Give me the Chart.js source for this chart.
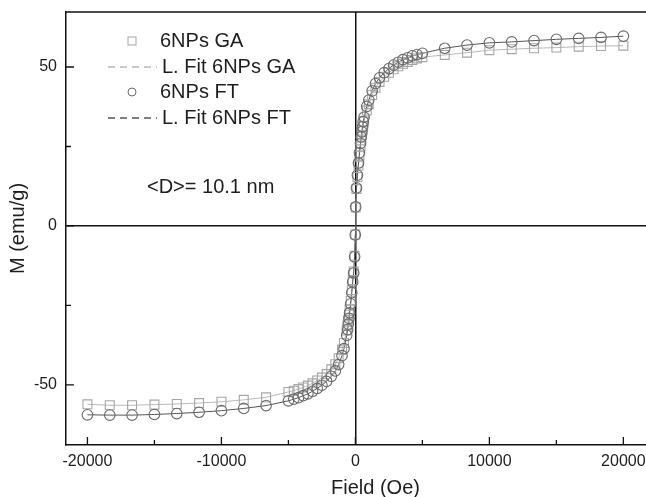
<!DOCTYPE html>
<html lang="en">
<head>
  <meta charset="UTF-8">
  <title>M vs Field - 6NPs GA / FT</title>
  <script src="https://cdn.jsdelivr.net/npm/chart.js"></script>
  <style>
    html, body { margin: 0; padding: 0; overflow: hidden; background: #fff; }
    #wrap { width: 646px; height: 497px; overflow: hidden; }
  </style>
</head>
<body>
  <div id="wrap">
    <canvas id="mhChart" width="700" height="497"></canvas>
  </div>

  <script>
    // Applied field (Oe), shared by both samples
    const fieldOe = [
      -20000, -18333, -16667, -15000, -13333, -11667, -10000, -8333, -6667, -5000,
      -4600, -4250, -3900, -3550, -3200, -2850, -2500, -2150, -1800, -1500,
      -1250, -1000, -850, -650, -580, -530, -480, -430, -350, -270,
      -200, -130, -60, -10,
      20, 80, 150, 230, 300, 380, 430, 480, 530, 580,
      650, 850, 1000, 1250, 1500, 1800, 2150, 2500, 2850, 3200,
      3550, 3900, 4250, 4600,
      5000, 6667, 8333, 10000, 11667, 13333, 15000, 16667, 18333, 20000
    ];

    // Magnetization (emu/g), 6NPs GA (squares)
    const mGA = [
      -56.1, -56.4, -56.4, -56.2, -56.0, -55.7, -55.3, -54.7, -53.9, -52.2,
      -51.8, -51.3, -50.8, -50.2, -49.5, -48.6, -47.7, -46.6, -45.1, -43.5,
      -41.6, -38.9, -36.8, -32.9, -31.2, -29.6, -27.9, -26.2, -23.5, -20.2,
      -17.0, -14.3, -9.4, -2.7,
      5.8, 11.6, 15.4, 19.0, 22.1, 25.0, 26.9, 28.5, 30.0, 31.5,
      32.9, 36.3, 38.3, 41.2, 43.5, 45.3, 46.9, 48.2, 49.3, 50.2,
      51.0, 51.6, 52.2, 52.7,
      53.1, 53.8, 54.5, 55.3, 55.6, 55.9, 56.1, 56.4, 56.6, 56.7
    ];

    // Magnetization (emu/g), 6NPs FT (circles)
    const mFT = [
      -59.4, -59.5, -59.5, -59.3, -59.0, -58.6, -58.1, -57.4, -56.5, -55.0,
      -54.5, -54.0, -53.4, -52.8, -52.0, -51.1, -50.1, -48.9, -47.3, -45.6,
      -43.6, -40.8, -38.6, -34.4, -32.6, -30.9, -29.1, -27.3, -24.5, -21.0,
      -17.6, -14.8, -9.7, -2.8,
      6.0, 12.0, 16.0, 19.8, 23.0, 26.0, 28.0, 29.6, 31.2, 32.8,
      34.2, 37.6, 39.6, 42.5, 44.8, 46.6, 48.2, 49.5, 50.6, 51.5,
      52.3, 52.9, 53.5, 53.9,
      54.3, 55.9, 56.9, 57.6, 57.9, 58.3, 58.7, 59.0, 59.3, 59.7
    ];

    // ticks: all tick positions, labels only on the major ones
    const xTickValues = [-20000, -15000, -10000, -5000, 0, 5000, 10000, 15000, 20000];
    const xMajorTicks = [-20000, -10000, 0, 10000, 20000];
    const yTickValues = [-50, -25, 0, 25, 50];
    const yMajorTicks = [-50, 0, 50];
    const legendLabels = ['6NPs GA', 'L. Fit 6NPs GA', '6NPs FT', 'L. Fit 6NPs FT'];
    const noteText = '<D>= 10.1 nm';

    const FONT = "'Liberation Sans', Arial, sans-serif";
    const TEXT = '#1e1e1e';

    const toPoints = ys => fieldOe.map((x, i) => ({ x: x, y: ys[i] }));

    // frame top line, inward ticks, legend and size note
    const framePlugin = {
      id: 'frame',
      afterDraw(chart) {
        const ctx = chart.ctx;
        const a = chart.chartArea;
        const xs = chart.scales.x, ys = chart.scales.y;
        ctx.save();
        ctx.strokeStyle = '#111';
        ctx.lineWidth = 1.5;
        ctx.beginPath();
        ctx.moveTo(a.left, a.top);
        ctx.lineTo(a.right, a.top);
        ctx.lineTo(a.right, a.bottom);
        ctx.stroke();

        // inward ticks
        ctx.lineWidth = 1.3;
        ctx.beginPath();
        xs.ticks.forEach(t => {
          const px = xs.getPixelForValue(t.value);
          const len = xMajorTicks.includes(t.value) ? 8 : 5;
          ctx.moveTo(px, a.bottom);
          ctx.lineTo(px, a.bottom - len);
        });
        ys.ticks.forEach(t => {
          const py = ys.getPixelForValue(t.value);
          const len = yMajorTicks.includes(t.value) ? 8 : 5;
          ctx.moveTo(a.left, py);
          ctx.lineTo(a.left + len, py);
        });
        ctx.stroke();

        // legend
        const ds = chart.data.datasets;
        const rows = [
          { y: 41, kind: 'rect', d: ds[2] },
          { y: 67, kind: 'line', d: ds[0] },
          { y: 92, kind: 'circle', d: ds[3] },
          { y: 118, kind: 'line', d: ds[1] }
        ];
        ctx.font = '20px ' + FONT;
        ctx.textBaseline = 'middle';
        ctx.textAlign = 'left';
        rows.forEach((r, i) => {
          if (r.kind === 'line') {
            ctx.save();
            ctx.strokeStyle = r.d.borderColor;
            ctx.lineWidth = 1.5;
            ctx.setLineDash([7, 5]);
            ctx.beginPath();
            ctx.moveTo(108, r.y);
            ctx.lineTo(157, r.y);
            ctx.stroke();
            ctx.restore();
          } else if (r.kind === 'rect') {
            ctx.strokeStyle = r.d.borderColor;
            ctx.lineWidth = 1;
            ctx.strokeRect(128, r.y - 4, 8, 8);
          } else {
            ctx.strokeStyle = r.d.borderColor;
            ctx.lineWidth = 1;
            ctx.beginPath();
            ctx.arc(132, r.y, 4, 0, Math.PI * 2);
            ctx.stroke();
          }
          ctx.fillStyle = TEXT;
          ctx.fillText(legendLabels[i], i % 2 ? 162 : 160, r.y);
        });
        ctx.fillText(noteText, 147, 187);
        ctx.restore();
      }
    };

    const ctx = document.getElementById('mhChart').getContext('2d');
    new Chart(ctx, {
      type: 'scatter',
      data: {
        datasets: [
          {
            label: 'L. Fit 6NPs GA',
            type: 'line',
            data: toPoints(mGA),
            borderColor: '#b9b9b9',
            borderWidth: 1,
            pointRadius: 0,
            fill: false,
            tension: 0,
            order: 4
          },
          {
            label: 'L. Fit 6NPs FT',
            type: 'line',
            data: toPoints(mFT),
            borderColor: '#555555',
            borderWidth: 1,
            pointRadius: 0,
            fill: false,
            tension: 0,
            order: 3
          },
          {
            label: '6NPs GA',
            data: toPoints(mGA),
            pointStyle: 'rect',
            pointRadius: 6.3,
            borderColor: '#a6a6a6',
            backgroundColor: 'rgba(255,255,255,0)',
            borderWidth: 1.1,
            order: 2
          },
          {
            label: '6NPs FT',
            data: toPoints(mFT),
            pointStyle: 'circle',
            pointRadius: 5.3,
            borderColor: '#6a6a6a',
            backgroundColor: 'rgba(255,255,255,0)',
            borderWidth: 1.1,
            order: 1
          }
        ]
      },
      options: {
        responsive: false,
        animation: false,
        layout: { padding: { top: 12, right: 15, left: 0, bottom: 0 } },
        plugins: {
          legend: { display: false },
          tooltip: { enabled: false }
        },
        scales: {
          x: {
            type: 'linear',
            min: -21600,
            max: 24600,
            afterBuildTicks: s => { s.ticks = xTickValues.map(v => ({ value: v })); },
            afterFit: s => { s.height = 52; s.paddingLeft = 0; s.paddingRight = 0; },
            border: { display: true, color: '#111', width: 1.5 },
            grid: {
              drawTicks: false,
              lineWidth: 1.5,
              color: c => (c.tick && c.tick.value === 0) ? '#111' : 'rgba(0,0,0,0)'
            },
            ticks: {
              autoSkip: false,
              maxRotation: 0,
              padding: 7,
              color: TEXT,
              font: { family: FONT, size: 16 },
              callback: v => xMajorTicks.includes(v) ? String(v) : ''
            },
            title: {
              display: true,
              text: 'Field (Oe)',
              color: TEXT,
              font: { family: FONT, size: 20, lineHeight: 0.9 },
              padding: { top: 0, bottom: 0 }
            }
          },
          y: {
            type: 'linear',
            min: -68.9,
            max: 67.3,
            afterBuildTicks: s => { s.ticks = yTickValues.map(v => ({ value: v })); },
            afterFit: s => { s.width = 66; s.paddingTop = 0; s.paddingBottom = 0; },
            border: { display: true, color: '#111', width: 1.5 },
            grid: {
              drawTicks: false,
              lineWidth: 1.5,
              color: c => (c.tick && c.tick.value === 0) ? '#111' : 'rgba(0,0,0,0)'
            },
            ticks: {
              autoSkip: false,
              padding: 9,
              color: TEXT,
              font: { family: FONT, size: 16 },
              callback: v => yMajorTicks.includes(v) ? String(v) : ''
            },
            title: {
              display: true,
              text: 'M (emu/g)',
              color: TEXT,
              font: { family: FONT, size: 20, lineHeight: 1.8 },
              padding: { top: 0, bottom: 0 }
            }
          }
        }
      },
      plugins: [framePlugin]
    });
  </script>
</body>
</html>
